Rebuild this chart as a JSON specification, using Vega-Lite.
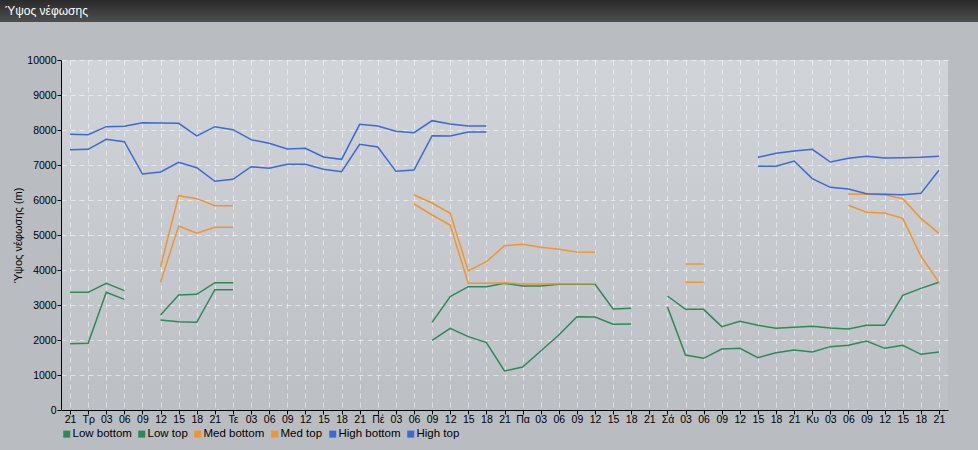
{
  "$schema": "https://vega.github.io/schema/vega-lite/v6.json",
  "padding": {"left": 0, "top": 0, "right": 0, "bottom": 6},
  "background": "#b9bdc1",
  "spacing": 38,
  "bounds": "flush",
  "center": true,
  "resolve": {"legend": {"color": "independent"}, "scale": {"color": "independent"}},
  "config": {
    "font": "Liberation Sans",
    "view": {"stroke": null},
    "axis": {
      "labelColor": "#000000", "domainColor": "#000000", "tickColor": "#000000", "titleColor": "#000000",
      "gridColor": "#ffffff", "gridOpacity": 0.5, "gridDash": [5, 4],
      "titleFontWeight": "normal", "titleFontSize": 11, "labelFontSize": 10.5, "titleFont": "Liberation Sans", "labelFont": "Liberation Sans"
    },
    "legend": {"labelFont": "Liberation Sans", "labelColor": "#000000"}
  },
  "vconcat": [
    {
      "width": 1009,
      "height": 22,
      "view": {"stroke": null, "fill": {"gradient": "linear", "x1": 0, "y1": 0, "x2": 0, "y2": 1, "stops": [{"offset": 0, "color": "#2a2a2a"}, {"offset": 1, "color": "#4e4e4e"}]}},
      "data": {"values": [{"t": "Ύψος νέφωσης"}]},
      "mark": {"type": "text", "align": "left", "baseline": "middle", "color": "#ffffff", "fontSize": 12, "dx": 5},
      "encoding": {
        "text": {"field": "t"},
        "x": {"datum": 0, "type": "quantitative", "scale": {"domain": [0, 1]}, "axis": null}
      }
    },
    {
      "width": 887,
      "height": 350,
      "view": {"stroke": null, "fill": {"gradient": "linear", "x1": 0, "y1": 0, "x2": 0, "y2": 1, "stops": [{"offset": 0, "color": "#d1d4d8"}, {"offset": 1, "color": "#bcc0c4"}]}},
      "data": {"values": [
        {"i":0,"s":"Low bottom","v":1895},{"i":1,"s":"Low bottom","v":1905},{"i":2,"s":"Low bottom","v":3362},{"i":3,"s":"Low bottom","v":3162},{"i":4,"s":"Low bottom","v":null},
        {"i":5,"s":"Low bottom","v":2571},{"i":6,"s":"Low bottom","v":2524},{"i":7,"s":"Low bottom","v":2505},{"i":8,"s":"Low bottom","v":3438},{"i":9,"s":"Low bottom","v":3438},{"i":10,"s":"Low bottom","v":null},
        {"i":20,"s":"Low bottom","v":1990},{"i":21,"s":"Low bottom","v":2333},{"i":22,"s":"Low bottom","v":2095},{"i":23,"s":"Low bottom","v":1924},{"i":24,"s":"Low bottom","v":1114},{"i":25,"s":"Low bottom","v":1229},
        {"i":26,"s":"Low bottom","v":1686},{"i":27,"s":"Low bottom","v":2143},{"i":28,"s":"Low bottom","v":2667},{"i":29,"s":"Low bottom","v":2657},{"i":30,"s":"Low bottom","v":2448},{"i":31,"s":"Low bottom","v":2457},{"i":32,"s":"Low bottom","v":null},
        {"i":33,"s":"Low bottom","v":2952},{"i":34,"s":"Low bottom","v":1571},{"i":35,"s":"Low bottom","v":1476},{"i":36,"s":"Low bottom","v":1743},{"i":37,"s":"Low bottom","v":1762},{"i":38,"s":"Low bottom","v":1495},
        {"i":39,"s":"Low bottom","v":1638},{"i":40,"s":"Low bottom","v":1714},{"i":41,"s":"Low bottom","v":1657},{"i":42,"s":"Low bottom","v":1810},{"i":43,"s":"Low bottom","v":1848},{"i":44,"s":"Low bottom","v":1971},
        {"i":45,"s":"Low bottom","v":1762},{"i":46,"s":"Low bottom","v":1848},{"i":47,"s":"Low bottom","v":1590},{"i":48,"s":"Low bottom","v":1657},

        {"i":0,"s":"Low top","v":3362},{"i":1,"s":"Low top","v":3362},{"i":2,"s":"Low top","v":3619},{"i":3,"s":"Low top","v":3410},{"i":4,"s":"Low top","v":null},
        {"i":5,"s":"Low top","v":2714},{"i":6,"s":"Low top","v":3286},{"i":7,"s":"Low top","v":3305},{"i":8,"s":"Low top","v":3638},{"i":9,"s":"Low top","v":3638},{"i":10,"s":"Low top","v":null},
        {"i":20,"s":"Low top","v":2505},{"i":21,"s":"Low top","v":3238},{"i":22,"s":"Low top","v":3524},{"i":23,"s":"Low top","v":3524},{"i":24,"s":"Low top","v":3619},{"i":25,"s":"Low top","v":3543},
        {"i":26,"s":"Low top","v":3543},{"i":27,"s":"Low top","v":3590},{"i":28,"s":"Low top","v":3600},{"i":29,"s":"Low top","v":3590},{"i":30,"s":"Low top","v":2886},{"i":31,"s":"Low top","v":2905},{"i":32,"s":"Low top","v":null},
        {"i":33,"s":"Low top","v":3257},{"i":34,"s":"Low top","v":2876},{"i":35,"s":"Low top","v":2876},{"i":36,"s":"Low top","v":2381},{"i":37,"s":"Low top","v":2533},{"i":38,"s":"Low top","v":2419},
        {"i":39,"s":"Low top","v":2333},{"i":40,"s":"Low top","v":2362},{"i":41,"s":"Low top","v":2390},{"i":42,"s":"Low top","v":2343},{"i":43,"s":"Low top","v":2314},{"i":44,"s":"Low top","v":2419},
        {"i":45,"s":"Low top","v":2419},{"i":46,"s":"Low top","v":3276},{"i":47,"s":"Low top","v":3476},{"i":48,"s":"Low top","v":3648},

        {"i":5,"s":"Med bottom","v":3648},{"i":6,"s":"Med bottom","v":5257},{"i":7,"s":"Med bottom","v":5048},{"i":8,"s":"Med bottom","v":5219},{"i":9,"s":"Med bottom","v":5219},{"i":10,"s":"Med bottom","v":null},
        {"i":19,"s":"Med bottom","v":5886},{"i":20,"s":"Med bottom","v":5571},{"i":21,"s":"Med bottom","v":5286},{"i":22,"s":"Med bottom","v":3619},{"i":23,"s":"Med bottom","v":3619},{"i":24,"s":"Med bottom","v":3638},
        {"i":25,"s":"Med bottom","v":3600},{"i":26,"s":"Med bottom","v":3600},{"i":27,"s":"Med bottom","v":3610},{"i":28,"s":"Med bottom","v":3610},{"i":29,"s":"Med bottom","v":3610},{"i":30,"s":"Med bottom","v":null},
        {"i":34,"s":"Med bottom","v":3648},{"i":35,"s":"Med bottom","v":3648},{"i":36,"s":"Med bottom","v":null},
        {"i":43,"s":"Med bottom","v":5848},{"i":44,"s":"Med bottom","v":5648},{"i":45,"s":"Med bottom","v":5629},{"i":46,"s":"Med bottom","v":5476},{"i":47,"s":"Med bottom","v":4400},{"i":48,"s":"Med bottom","v":3648},

        {"i":5,"s":"Med top","v":4094},{"i":6,"s":"Med top","v":6124},{"i":7,"s":"Med top","v":6038},{"i":8,"s":"Med top","v":5838},{"i":9,"s":"Med top","v":5838},{"i":10,"s":"Med top","v":null},
        {"i":19,"s":"Med top","v":6143},{"i":20,"s":"Med top","v":5914},{"i":21,"s":"Med top","v":5619},{"i":22,"s":"Med top","v":3971},{"i":23,"s":"Med top","v":4238},{"i":24,"s":"Med top","v":4695},
        {"i":25,"s":"Med top","v":4733},{"i":26,"s":"Med top","v":4648},{"i":27,"s":"Med top","v":4590},{"i":28,"s":"Med top","v":4514},{"i":29,"s":"Med top","v":4505},{"i":30,"s":"Med top","v":null},
        {"i":34,"s":"Med top","v":4171},{"i":35,"s":"Med top","v":4171},{"i":36,"s":"Med top","v":null},
        {"i":43,"s":"Med top","v":6171},{"i":44,"s":"Med top","v":6162},{"i":45,"s":"Med top","v":6152},{"i":46,"s":"Med top","v":6038},{"i":47,"s":"Med top","v":5476},{"i":48,"s":"Med top","v":5048},

        {"i":0,"s":"High bottom","v":7438},{"i":1,"s":"High bottom","v":7448},{"i":2,"s":"High bottom","v":7733},{"i":3,"s":"High bottom","v":7667},{"i":4,"s":"High bottom","v":6743},{"i":5,"s":"High bottom","v":6800},
        {"i":6,"s":"High bottom","v":7076},{"i":7,"s":"High bottom","v":6924},{"i":8,"s":"High bottom","v":6533},{"i":9,"s":"High bottom","v":6590},{"i":10,"s":"High bottom","v":6952},{"i":11,"s":"High bottom","v":6905},
        {"i":12,"s":"High bottom","v":7019},{"i":13,"s":"High bottom","v":7019},{"i":14,"s":"High bottom","v":6876},{"i":15,"s":"High bottom","v":6810},{"i":16,"s":"High bottom","v":7590},{"i":17,"s":"High bottom","v":7514},
        {"i":18,"s":"High bottom","v":6819},{"i":19,"s":"High bottom","v":6857},{"i":20,"s":"High bottom","v":7838},{"i":21,"s":"High bottom","v":7829},{"i":22,"s":"High bottom","v":7943},{"i":23,"s":"High bottom","v":7943},{"i":24,"s":"High bottom","v":null},
        {"i":38,"s":"High bottom","v":6962},{"i":39,"s":"High bottom","v":6962},{"i":40,"s":"High bottom","v":7114},{"i":41,"s":"High bottom","v":6610},{"i":42,"s":"High bottom","v":6362},{"i":43,"s":"High bottom","v":6314},
        {"i":44,"s":"High bottom","v":6181},{"i":45,"s":"High bottom","v":6162},{"i":46,"s":"High bottom","v":6152},{"i":47,"s":"High bottom","v":6190},{"i":48,"s":"High bottom","v":6848},

        {"i":0,"s":"High top","v":7877},{"i":1,"s":"High top","v":7866},{"i":2,"s":"High top","v":8095},{"i":3,"s":"High top","v":8105},{"i":4,"s":"High top","v":8210},{"i":5,"s":"High top","v":8200},
        {"i":6,"s":"High top","v":8190},{"i":7,"s":"High top","v":7829},{"i":8,"s":"High top","v":8095},{"i":9,"s":"High top","v":8010},{"i":10,"s":"High top","v":7724},{"i":11,"s":"High top","v":7619},
        {"i":12,"s":"High top","v":7457},{"i":13,"s":"High top","v":7476},{"i":14,"s":"High top","v":7229},{"i":15,"s":"High top","v":7162},{"i":16,"s":"High top","v":8162},{"i":17,"s":"High top","v":8114},
        {"i":18,"s":"High top","v":7962},{"i":19,"s":"High top","v":7924},{"i":20,"s":"High top","v":8267},{"i":21,"s":"High top","v":8171},{"i":22,"s":"High top","v":8114},{"i":23,"s":"High top","v":8114},{"i":24,"s":"High top","v":null},
        {"i":38,"s":"High top","v":7219},{"i":39,"s":"High top","v":7333},{"i":40,"s":"High top","v":7400},{"i":41,"s":"High top","v":7448},{"i":42,"s":"High top","v":7086},{"i":43,"s":"High top","v":7190},
        {"i":44,"s":"High top","v":7248},{"i":45,"s":"High top","v":7200},{"i":46,"s":"High top","v":7210},{"i":47,"s":"High top","v":7219},{"i":48,"s":"High top","v":7248}
      ]},
      "mark": {"type": "line", "strokeWidth": 1.5, "invalid": "break-paths-show-domains"},
      "encoding": {
        "x": {
          "field": "i", "type": "quantitative",
          "scale": {"domain": [-0.5, 48.5], "nice": false, "zero": false},
          "axis": {
            "title": null,
            "values": [0,1,2,3,4,5,6,7,8,9,10,11,12,13,14,15,16,17,18,19,20,21,22,23,24,25,26,27,28,29,30,31,32,33,34,35,36,37,38,39,40,41,42,43,44,45,46,47,48],
            "labelExpr": "['21','Τρ','03','06','09','12','15','18','21','Τε','03','06','09','12','15','18','21','Πέ','03','06','09','12','15','18','21','Πα','03','06','09','12','15','18','21','Σά','03','06','09','12','15','18','21','Κυ','03','06','09','12','15','18','21'][datum.value]",
            "labelOverlap": false, "labelFlush": false, "tickSize": 4, "labelPadding": 0
          }
        },
        "y": {
          "field": "v", "type": "quantitative",
          "scale": {"domain": [0, 10000], "nice": false},
          "axis": {
            "title": "Ύψος νέφωσης (m)",
            "format": "d",
            "values": [0,1000,2000,3000,4000,5000,6000,7000,8000,9000,10000],
            "titlePadding": 3, "tickSize": 4, "labelPadding": 1
          }
        },
        "color": {
          "field": "s", "type": "nominal",
          "scale": {
            "domain": ["Low bottom", "Low top", "Med bottom", "Med top", "High bottom", "High top"],
            "range": ["#2b8a57", "#2b8a57", "#f0962e", "#f0962e", "#3a69d8", "#3a69d8"]
          },
          "legend": {
            "orient": "bottom", "direction": "horizontal", "title": null,
            "symbolType": "square", "symbolSize": 9, "symbolStrokeWidth": 4,
            "labelFontSize": 11.5, "columnPadding": 0, "offset": 3, "labelOffset": 0, "padding": 0
          }
        }
      }
    }
  ]
}
